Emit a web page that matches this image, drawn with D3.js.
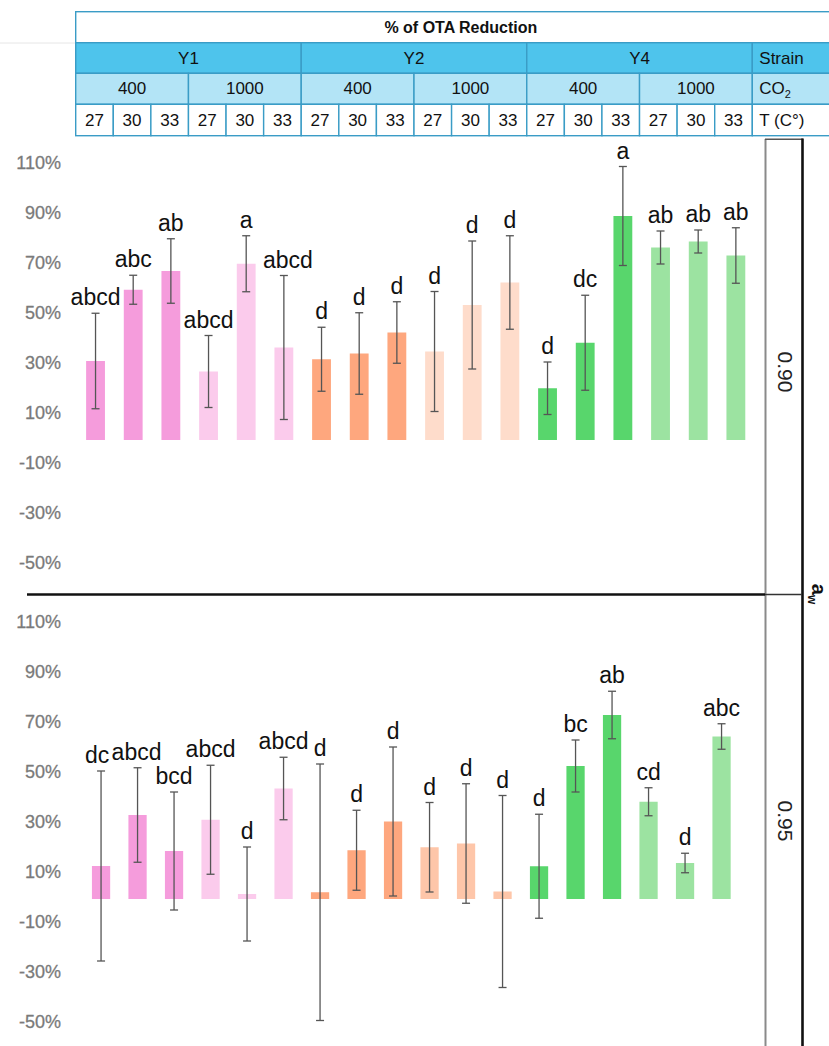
<!DOCTYPE html>
<html>
<head>
<meta charset="utf-8">
<script src="https://cdn.jsdelivr.net/npm/d3@7/dist/d3.min.js"></script>
<style>
  html, body { margin: 0; padding: 0; background: #fff; }
  svg { display: block; font-family: "Liberation Sans", Arial, sans-serif; }
</style>
</head>
<body>
<svg id="chart" width="829" height="1046"></svg>
<script>
// ---- Data ----------------------------------------------------------------
const strains   = ["Y1", "Y2", "Y4"];
const co2Levels = ["400", "1000"];
const temps     = ["27", "30", "33"];
const awLevels  = ["0.90", "0.95"];
const yTicks    = [110, 90, 70, 50, 30, 10, -10, -30, -50];

// % OTA reduction (mean) and SD, 18 conditions: strain x CO2 x temperature
const mean090 = [31.6, 60.1, 67.6, 27.4, 70.5, 37.0, 32.3, 34.6, 43.0, 35.4, 54.0, 63.0, 20.7, 38.9, 89.6, 77.0, 79.4, 73.8];
const sd090   = [19.1, 5.8, 12.9, 14.4, 11.2, 28.8, 12.8, 16.3, 12.3, 24.0, 25.6, 18.7, 10.5, 19.0, 19.8, 6.6, 4.6, 11.1];
const sig090  = ["abcd", "abc", "ab", "abcd", "a", "abcd", "d", "d", "d", "d", "d", "d", "d", "dc", "a", "ab", "ab", "ab"];

const mean095 = [13.2, 33.6, 19.2, 31.7, 2.0, 44.2, 2.7, 19.5, 31.0, 20.7, 22.2, 3.0, 13.1, 53.2, 73.6, 38.9, 14.4, 65.0];
const sd095   = [38.0, 18.9, 23.6, 21.8, 18.8, 12.5, 51.3, 16.0, 29.8, 17.9, 23.9, 38.4, 20.8, 10.4, 9.5, 5.6, 3.9, 5.1];
const sig095  = ["dc", "abcd", "bcd", "abcd", "d", "abcd", "d", "d", "d", "d", "d", "d", "d", "bc", "ab", "cd", "d", "abc"];

// bar fill per strain / CO2 group (0.90 and 0.95 panels)
const colors090 = ["#f59cdc", "#fbcbec", "#fea77e", "#fedccb", "#58d66c", "#9ce3a1"];
const colors095 = ["#f59cdc", "#fbcbec", "#fea77e", "#fec6a9", "#58d66c", "#9ce3a1"];

// ---- Setup ---------------------------------------------------------------
const svg = d3.select("#chart");
const conditions = d3.range(strains.length * co2Levels.length * temps.length);
const groupOf = i => Math.floor(i / temps.length);

// helper to place text
function txt(g, x, y, s, opts = {}) {
  const t = g.append("text")
    .attr("x", x).attr("y", y)
    .attr("text-anchor", opts.anchor || "middle")
    .attr("font-size", opts.size || 17)
    .attr("font-weight", opts.weight || "normal")
    .attr("fill", opts.fill || "#111")
    .text(s);
  return t;
}

// ---- Header table --------------------------------------------------------
const table = svg.append("g");
const tx = d3.scaleBand().domain(conditions).range([75.7, 752.3]);
const tableRight = 846;
const rows = [11.7, 42.7, 73.3, 104.3, 135.7];
const border = "#3a9cc6";

// faint rule at the left of the header
table.append("line").attr("x1", 0).attr("x2", 75).attr("y1", 43).attr("y2", 43)
  .attr("stroke", "#e6e6e6").attr("stroke-width", 1);

function cell(x0, x1, r, fill) {
  table.append("rect")
    .attr("x", x0).attr("y", rows[r])
    .attr("width", x1 - x0).attr("height", rows[r + 1] - rows[r])
    .attr("fill", fill).attr("stroke", border).attr("stroke-width", 1.4);
}

// title row
cell(tx(0), tableRight, 0, "#ffffff");
txt(table, (tx(0) + tableRight) / 2, rows[0] + 21, "% of OTA Reduction", { weight: "bold", size: 16 });

// strain row
strains.forEach((s, si) => {
  const x0 = tx(si * 6), x1 = tx(si * 6 + 5) + tx.bandwidth();
  cell(x0, x1, 1, "#4ec4ec");
  txt(table, (x0 + x1) / 2, rows[1] + 21, s);
  co2Levels.forEach((c, ci) => {
    const a0 = tx(si * 6 + ci * 3), a1 = tx(si * 6 + ci * 3 + 2) + tx.bandwidth();
    cell(a0, a1, 2, "#b3e4f6");
    txt(table, (a0 + a1) / 2, rows[2] + 21, c);
  });
});
conditions.forEach(i => {
  cell(tx(i), tx(i) + tx.bandwidth(), 3, "#ffffff");
  txt(table, tx(i) + tx.bandwidth() / 2, rows[3] + 22, temps[i % 3]);
});

// row header column
const hx = tx(17) + tx.bandwidth();
cell(hx, tableRight, 1, "#4ec4ec");
cell(hx, tableRight, 2, "#b3e4f6");
cell(hx, tableRight, 3, "#ffffff");
txt(table, hx + 7, rows[1] + 21, "Strain", { anchor: "start" });
const co2 = txt(table, hx + 7, rows[2] + 21, "CO", { anchor: "start" });
co2.append("tspan").attr("font-size", 11).attr("dy", 4).text("2");
txt(table, hx + 7, rows[3] + 22, "T (C°)", { anchor: "start" });

// ---- Panels --------------------------------------------------------------
const panels = [
  { aw: awLevels[0], mean: mean090, sd: sd090, sig: sig090, colors: colors090,
    y: [565, 165], x: [76.7, 754.7], labelY: 372, nudge: { 5: 4 } },
  { aw: awLevels[1], mean: mean095, sd: sd095, sig: sig095, colors: colors095,
    y: [1024, 624], x: [82.8, 739.8], labelY: 821, nudge: { 0: -4, 1: -1 } }
];

panels.forEach(p => {
  const g = svg.append("g");
  const y = d3.scaleLinear().domain([-50, 110]).range(p.y);
  const x = d3.scaleBand().domain(conditions).range(p.x).paddingInner(0.5).paddingOuter(0.25);

  // y axis labels
  const ax = g.append("g")
    .attr("transform", "translate(61,-2)")
    .call(d3.axisLeft(y).tickValues(yTicks).tickFormat(d => d + "%").tickSize(0).tickPadding(0));
  ax.select(".domain").remove();
  ax.selectAll("text")
    .attr("font-family", "'Liberation Sans', Arial, sans-serif")
    .attr("font-size", 18).attr("fill", "#7a7a7a")
    .attr("stroke", "#7a7a7a").attr("stroke-width", 0.3);

  // bars
  g.selectAll("rect.bar").data(conditions).join("rect")
    .attr("class", "bar")
    .attr("x", i => x(i))
    .attr("width", x.bandwidth())
    .attr("y", i => Math.min(y(p.mean[i]), y(0)))
    .attr("height", i => Math.abs(y(0) - y(p.mean[i])))
    .attr("fill", i => p.colors[groupOf(i)]);

  // error bars
  const cx = i => x(i) + x.bandwidth() / 2;
  const eb = g.selectAll("g.err").data(conditions).join("g").attr("class", "err")
    .attr("stroke", "#555").attr("stroke-width", 1.3);
  eb.append("line").attr("x1", cx).attr("x2", cx)
    .attr("y1", i => y(p.mean[i] + p.sd[i])).attr("y2", i => y(p.mean[i] - p.sd[i]));
  eb.append("line").attr("x1", i => cx(i) - 4).attr("x2", i => cx(i) + 4)
    .attr("y1", i => y(p.mean[i] + p.sd[i])).attr("y2", i => y(p.mean[i] + p.sd[i]));
  eb.append("line").attr("x1", i => cx(i) - 4).attr("x2", i => cx(i) + 4)
    .attr("y1", i => y(p.mean[i] - p.sd[i])).attr("y2", i => y(p.mean[i] - p.sd[i]));

  // significance letters
  g.selectAll("text.sig").data(conditions).join("text")
    .attr("class", "sig")
    .attr("x", i => cx(i) + (p.nudge[i] || 0))
    .attr("y", i => y(p.mean[i] + p.sd[i]) - 8)
    .attr("text-anchor", "middle")
    .attr("font-size", 23)
    .attr("fill", "#111")
    .text(i => p.sig[i]);

  // aw level label
  g.append("text")
    .attr("transform", `translate(778,${p.labelY}) rotate(90)`)
    .attr("text-anchor", "middle")
    .attr("font-size", 21).attr("fill", "#222")
    .text(p.aw);
});

// ---- Frame lines ---------------------------------------------------------
const frame = svg.append("g");
frame.append("line").attr("x1", 765.5).attr("x2", 765.5).attr("y1", 139).attr("y2", 1046)
  .attr("stroke", "#8a8a8a").attr("stroke-width", 2);
frame.append("line").attr("x1", 765).attr("x2", 803).attr("y1", 139.3).attr("y2", 139.3)
  .attr("stroke", "#555").attr("stroke-width", 1.5);
frame.append("line").attr("x1", 802.5).attr("x2", 802.5).attr("y1", 138.5).attr("y2", 1046)
  .attr("stroke", "#111").attr("stroke-width", 2.6);
frame.append("line").attr("x1", 27).attr("x2", 765).attr("y1", 594.5).attr("y2", 594.5)
  .attr("stroke", "#111").attr("stroke-width", 2.6);
frame.append("line").attr("x1", 765).attr("x2", 802).attr("y1", 594.5).attr("y2", 594.5)
  .attr("stroke", "#333").attr("stroke-width", 1.5);

// water activity axis title
const aw = frame.append("text")
  .attr("transform", "translate(812,594) rotate(90)")
  .attr("text-anchor", "middle")
  .attr("font-size", 20).attr("font-weight", "bold").attr("fill", "#111")
  .text("a");
aw.append("tspan").attr("font-size", 12).attr("dy", 4).text("w");
</script>
</body>
</html>
